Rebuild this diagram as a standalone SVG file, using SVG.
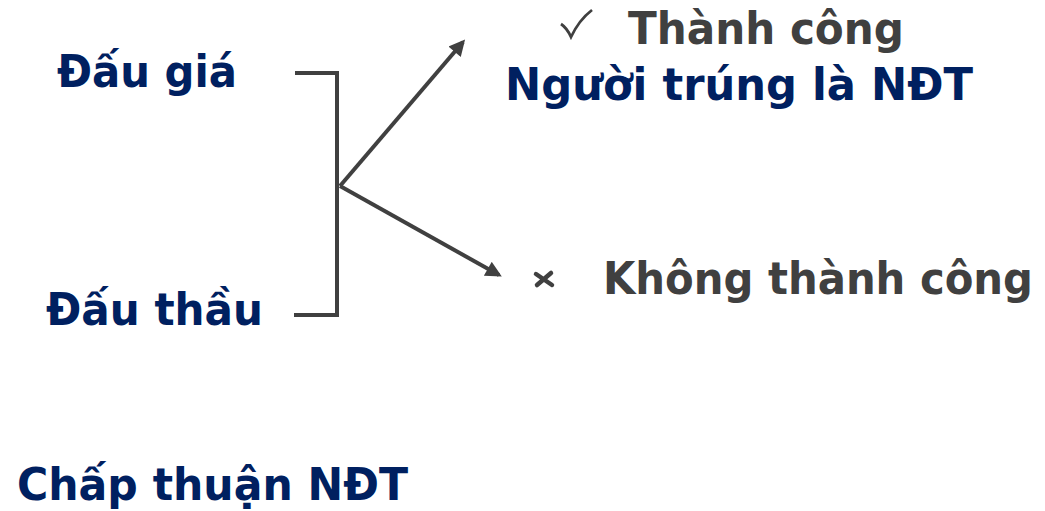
<svg xmlns="http://www.w3.org/2000/svg" width="1045" height="511" viewBox="0 0 1045 511">
  <style>
    text { font-family: "DejaVu Sans", Verdana, sans-serif; font-weight: bold; font-size: 45px; }
    .navy { fill: #002060; }
    .gray { fill: #404040; }
    .line { stroke: #404040; stroke-width: 4; fill: none; }
  </style>
  <defs>
    <marker id="arrow" viewBox="0 0 10 10" refX="8" refY="5" markerWidth="4.2" markerHeight="4" orient="auto" markerUnits="strokeWidth">
      <path d="M0,0 L10,5 L0,10 z" fill="#404040"/>
    </marker>
  </defs>
  <rect width="1045" height="511" fill="#ffffff"/>

  <g id="connectors">
    <polyline class="line" points="295,73 337,73 337,315 294,315"/>
    <line class="line" x1="340" y1="186" x2="463" y2="42" marker-end="url(#arrow)"/>
    <line class="line" x1="340" y1="186" x2="499" y2="275" marker-end="url(#arrow)"/>
  </g>

  <g id="dau-gia">
    <text class="navy" x="57" y="87" textLength="180" lengthAdjust="spacingAndGlyphs">Đấu giá</text>
  </g>
  <g id="dau-thau">
    <text class="navy" x="46" y="325" textLength="217" lengthAdjust="spacingAndGlyphs">Đấu thầu</text>
  </g>
  <g id="thanh-cong">
    <path d="M561,24 Q567,28 571,37 Q579,20 592,10" stroke="#404040" stroke-width="2.8" fill="none"/>
    <text class="gray" x="628" y="44" textLength="276" lengthAdjust="spacingAndGlyphs">Thành công</text>
    <text class="navy" x="505" y="100" textLength="468" lengthAdjust="spacingAndGlyphs">Người trúng là NĐT</text>
  </g>
  <g id="khong-thanh-cong">
    <path d="M536,274 L552,285 M551,273 L537,285" stroke="#404040" stroke-width="4.5" stroke-linecap="round" fill="none"/>
    <text class="gray" x="603" y="294" font-size="42.5" textLength="430" lengthAdjust="spacingAndGlyphs">Không thành công</text>
  </g>
  <g id="chap-thuan">
    <text class="navy" x="17" y="500" textLength="391" lengthAdjust="spacingAndGlyphs">Chấp thuận NĐT</text>
  </g>
</svg>
